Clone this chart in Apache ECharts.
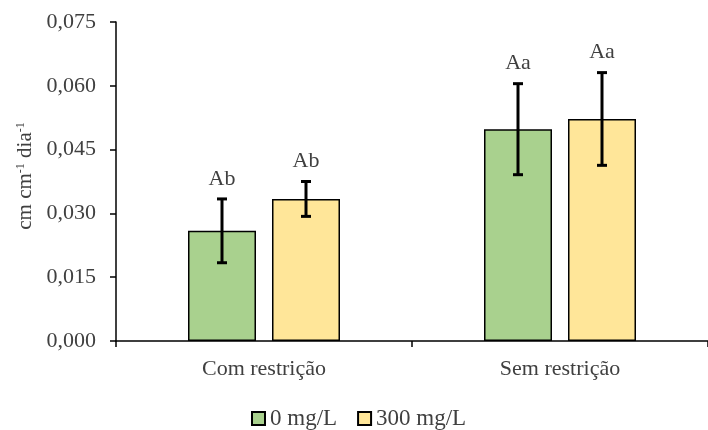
<!DOCTYPE html>
<html><head><meta charset="utf-8">
<script src="https://cdn.jsdelivr.net/npm/echarts@6/dist/echarts.min.js"></script>
<style>html,body{margin:0;padding:0;background:#fff}#c{width:708px;height:430px}</style>
</head><body><div id="c"></div>
<script>
const categories = ['Com restrição', 'Sem restrição'];
const seriesNames = ['0 mg/L', '300 mg/L'];
const values0 = [0.0259, 0.0498];
const errors0 = [0.0075, 0.0107];
const letters0 = ['Ab', 'Aa'];
const values1 = [0.0334, 0.0522];
const errors1 = [0.0041, 0.0109];
const letters1 = ['Ab', 'Aa'];
const yTicks = { min: 0, max: 0.075, interval: 0.015 };

const FONT = 'Liberation Serif';
const TXT = '#404040';
const BAR_W = 68, BAR_GAP = 16;
const OFF = (BAR_W + BAR_GAP) / 2;

function errSeries(vals, errs, letters, sign) {
  return {
    type: 'custom',
    clip: false,
    z: 10,
    data: vals.map((v, i) => [i, v, errs[i]]),
    renderItem: function (params, api) {
      const i = api.value(0), v = api.value(1), e = api.value(2);
      const top = api.coord([i, v + e]);
      const bot = api.coord([i, v - e]);
      const x = top[0] + sign * OFF;
      const cap = 5;
      const st = { stroke: '#000', lineWidth: 3 };
      const lbl = letters[params.dataIndex];
      return {
        type: 'group',
        children: [
          { type: 'line', shape: { x1: x, y1: top[1], x2: x, y2: bot[1] }, style: st },
          { type: 'line', shape: { x1: x - cap, y1: top[1], x2: x + cap, y2: top[1] }, style: st },
          { type: 'line', shape: { x1: x - cap, y1: bot[1], x2: x + cap, y2: bot[1] }, style: st },
          { type: 'text', x: x, y: top[1] - 9, style: { text: lbl, fontFamily: FONT, fontSize: 22, fill: TXT, align: 'center', verticalAlign: 'bottom' } }
        ]
      };
    }
  };
}

const chart = echarts.init(document.getElementById('c'), null, { renderer: 'canvas' });
chart.setOption({
  animation: false,
  backgroundColor: '#fff',
  grid: { left: 116, right: -8, top: 22, bottom: 89, containLabel: false },
  legend: {
    left: 246, top: 402,
    itemWidth: 13, itemHeight: 13, itemGap: 20,
    icon: 'rect',
    textStyle: { fontFamily: FONT, fontSize: 23, color: TXT },
    data: seriesNames
  },
  xAxis: {
    type: 'category',
    data: categories,
    axisLine: { lineStyle: { color: '#000', width: 1.5 } },
    axisTick: { show: true, length: 6, lineStyle: { color: '#000', width: 1.5 } },
    axisLabel: { fontFamily: FONT, fontSize: 22, color: TXT, margin: 17 }
  },
  yAxis: {
    type: 'value',
    min: yTicks.min, max: yTicks.max, interval: yTicks.interval,
    splitLine: { show: false },
    axisLine: { show: true, lineStyle: { color: '#000', width: 1.5 } },
    axisTick: { show: true, length: 6, lineStyle: { color: '#000', width: 1.5 } },
    axisLabel: { fontFamily: FONT, fontSize: 22, color: TXT, margin: 20,
      formatter: v => v.toFixed(3).replace('.', ',') }
  },
  graphic: [{
    type: 'text', x: 25, y: 176, rotation: Math.PI / 2,
    style: {
      text: '{a|cm cm}{s|-1}{a| dia}{s|-1}',
      fontFamily: FONT, fontSize: 21, fill: TXT,
      align: 'center', verticalAlign: 'middle',
      rich: {
        a: { fontFamily: FONT, fontSize: 21, fill: TXT, verticalAlign: 'bottom' },
        s: { fontFamily: FONT, fontSize: 12, fill: TXT, verticalAlign: 'top' }
      }
    }
  }],
  series: [
    { name: seriesNames[0], type: 'bar', data: values0, barWidth: BAR_W, barGap: (BAR_GAP / BAR_W * 100) + '%',
      itemStyle: { color: '#a9d18e', borderColor: '#000', borderWidth: 1.5 } },
    { name: seriesNames[1], type: 'bar', data: values1, barWidth: BAR_W,
      itemStyle: { color: '#ffe699', borderColor: '#000', borderWidth: 1.5 } },
    errSeries(values0, errors0, letters0, -1),
    errSeries(values1, errors1, letters1, 1)
  ]
});
</script></body></html>
